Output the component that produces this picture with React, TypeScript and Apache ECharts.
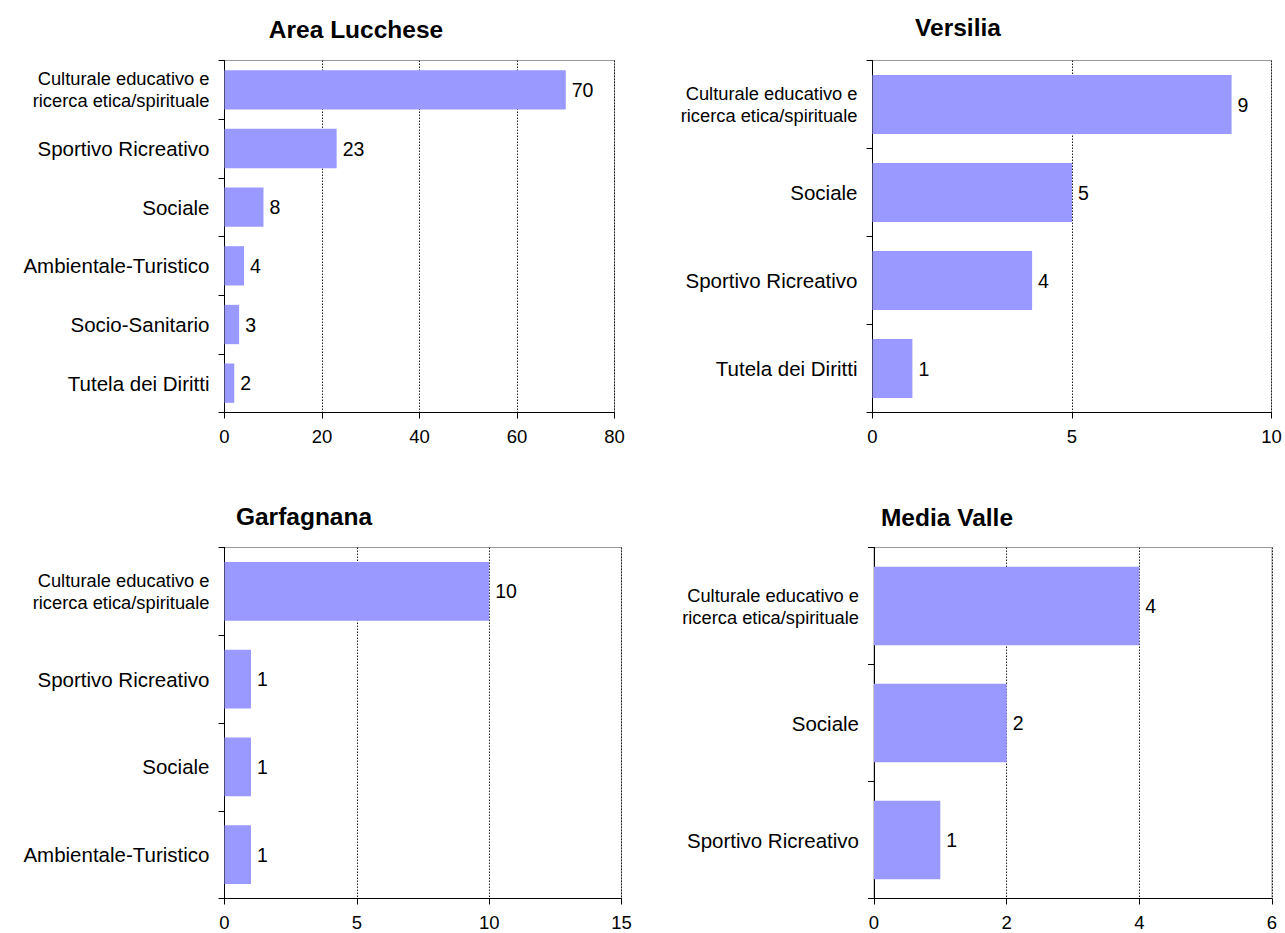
import React, { useEffect, useRef } from "react";
import * as echarts from "echarts";

const titles = ["Area Lucchese", "Versilia", "Garfagnana", "Media Valle"];

const catLucchese = [
  "Culturale educativo e\nricerca etica/spirituale",
  "Sportivo Ricreativo",
  "Sociale",
  "Ambientale-Turistico",
  "Socio-Sanitario",
  "Tutela dei Diritti",
];
const valLucchese = [70, 23, 8, 4, 3, 2];

const catVersilia = [
  "Culturale educativo e\nricerca etica/spirituale",
  "Sociale",
  "Sportivo Ricreativo",
  "Tutela dei Diritti",
];
const valVersilia = [9, 5, 4, 1];

const catGarfagnana = [
  "Culturale educativo e\nricerca etica/spirituale",
  "Sportivo Ricreativo",
  "Sociale",
  "Ambientale-Turistico",
];
const valGarfagnana = [10, 1, 1, 1];

const catMediaValle = [
  "Culturale educativo e\nricerca etica/spirituale",
  "Sociale",
  "Sportivo Ricreativo",
];
const valMediaValle = [4, 2, 1];

const axisMax = [80, 10, 15, 6];
const axisInterval = [20, 5, 5, 2];

const FONT = "'Liberation Sans', Arial, sans-serif";

export default function App() {
  const ref = useRef<HTMLDivElement>(null);
  useEffect(() => {
    if (!ref.current) return;
    const chart = echarts.init(ref.current, undefined, { renderer: "svg" });
    const cats = [catLucchese, catVersilia, catGarfagnana, catMediaValle];
    const vals = [valLucchese, valVersilia, valGarfagnana, valMediaValle];
    const grids = [
      { left: 224.5, top: 60.5, width: 390, height: 352 },
      { left: 872.5, top: 60.5, width: 399, height: 352 },
      { left: 224.5, top: 547.5, width: 397, height: 351 },
      { left: 874, top: 547.5, width: 398, height: 351 },
    ];
    const titlePos = [
      [356, 29],
      [958, 27],
      [304, 516],
      [947, 517],
    ];
    chart.setOption({
      animation: false,
      backgroundColor: "#fff",
      textStyle: { fontFamily: FONT },
      grid: grids.map((g) => ({
        ...g,
        show: true,
        borderColor: "#999",
        borderWidth: 1,
        backgroundColor: "transparent",
        containLabel: false,
      })),
      xAxis: grids.map((_, i) => ({
        type: "value",
        gridIndex: i,
        min: 0,
        max: axisMax[i],
        interval: axisInterval[i],
        axisLine: { show: true, lineStyle: { color: "#000", width: 1 } },
        axisTick: { show: true, length: 6, lineStyle: { color: "#000" } },
        axisLabel: { color: "#000", fontSize: 18.5, fontFamily: FONT, margin: 14 },
        splitLine: { show: true, lineStyle: { color: "#222", type: [1.5, 1.5], width: 1 } },
      })),
      yAxis: grids.map((_, i) => ({
        type: "category",
        gridIndex: i,
        data: cats[i],
        inverse: true,
        axisLine: { show: true, lineStyle: { color: "#000", width: 1 } },
        axisTick: { show: true, length: 6, alignWithLabel: false, interval: 0, lineStyle: { color: "#000" } },
        axisLabel: {
          color: "#000",
          fontSize: 20.5,
          fontFamily: FONT,
          margin: 15,
          interval: 0,
          align: "right",
          formatter: (v: string) => (v.indexOf("\n") >= 0 ? `{s|${v}}` : v),
          rich: {
            s: { fontSize: 18.3, lineHeight: 22, fontFamily: FONT, color: "#000", align: "right" },
          },
        },
        splitLine: { show: false },
      })),
      series: grids.map((_, i) => ({
        type: "bar",
        xAxisIndex: i,
        yAxisIndex: i,
        data: vals[i],
        barCategoryGap: "33%",
        itemStyle: { color: "#9999FF" },
        label: {
          show: true,
          position: "right",
          distance: 6,
          color: "#000",
          fontSize: 19.5,
          fontFamily: FONT,
        },
      })),
      graphic: titles.map((t, i) => ({
        type: "text",
        x: titlePos[i][0],
        y: titlePos[i][1],
        style: {
          text: t,
          fill: "#000",
          font: `bold 24.5px ${FONT}`,
          textAlign: "center",
          textVerticalAlign: "middle",
        },
      })),
    });
    return () => chart.dispose();
  }, []);
  return (
    <div
      ref={ref}
      style={{ position: "absolute", left: 0, top: 0, width: 1285, height: 933 }}
    />
  );
}
